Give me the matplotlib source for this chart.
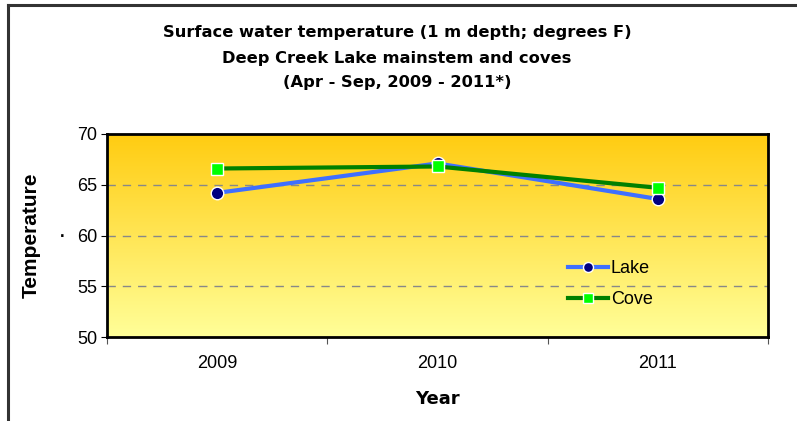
import numpy as np
import matplotlib
matplotlib.use("Agg")
import matplotlib.pyplot as plt
from matplotlib.colors import LinearSegmentedColormap
from matplotlib.lines import Line2D

plt.rcParams['font.family'] = ['Liberation Sans', 'DejaVu Sans']

# Data
years = ['2009', '2010', '2011']
lake = [64.2, 67.1, 63.6]
cove = [66.6, 66.8, 64.7]
yticks = [50, 55, 60, 65, 70]

fig = plt.figure(figsize=(7.97, 4.21), dpi=100)
ax = fig.add_axes([107 / 797, 1 - 337 / 421, 661 / 797, 203 / 421])

# gradient plot background
grad = LinearSegmentedColormap.from_list('bg', ['#FFFF99', '#FFCC11'])
ax.imshow(np.linspace(0, 1, 256).reshape(-1, 1), cmap=grad, origin='lower',
          aspect='auto', extent=[-0.5, 2.5, 50, 70], zorder=0)

x = np.arange(len(years))
ax.plot(x, lake, color='#3F6FFF', lw=3, marker='o', ms=9, mfc='#000080',
        mec='white', mew=1, label='Lake', zorder=3)
ax.plot(x, cove, color='#008000', lw=3, marker='s', ms=9, mfc='#00FF00',
        mec='white', mew=1, label='Cove', zorder=3)

ax.set_xlim(-0.5, 2.5)
ax.set_ylim(50, 70)
ax.set_yticks(yticks)
ax.tick_params(axis='y', labelsize=13, length=4, pad=3)
for v in yticks[1:-1]:
    ax.axhline(v, color='#888888', lw=1, ls=(0, (6, 5)), zorder=1)

ax.set_xticks([-0.5, 0.5, 1.5, 2.5])
ax.set_xticklabels([])
ax.tick_params(axis='x', which='major', length=5, color='#555555')
ax.set_xticks(x, years, minor=True)
ax.tick_params(axis='x', which='minor', length=0, pad=13, labelsize=13)

for s in ax.spines.values():
    s.set_linewidth(2)
    s.set_color('black')

ax.set_xlabel('Year', fontsize=13, fontweight='bold', labelpad=13,
              family=['DejaVu Sans'])
ax.set_ylabel('Temperature', fontsize=15, fontweight='bold', labelpad=26)
fig.text(62 / 797, 1 - 233 / 421, '.', fontsize=12, fontweight='bold',
         ha='center', va='center')

title_lines = ['Surface water temperature (1 m depth; degrees F)',
               'Deep Creek Lake mainstem and coves',
               '(Apr - Sep, 2009 - 2011*)']
for line, ypx in zip(title_lines, [33, 58, 82]):
    fig.text(397 / 797, 1 - ypx / 421, line, fontsize=11.7, fontweight='bold',
             ha='center', va='center', family=['DejaVu Sans'])

ax.legend(loc='center left', bbox_to_anchor=(0.698, 0.26), frameon=False,
          fontsize=13, handlelength=2.2, handletextpad=0.15, labelspacing=0.75,
          borderaxespad=0, borderpad=0, markerscale=0.8)

# outer chart frame (top and left edges visible)
fig.add_artist(Line2D([8 / 797, 1], [1 - 4.5 / 421, 1 - 4.5 / 421],
                      color='#333333', lw=2.2, transform=fig.transFigure))
fig.add_artist(Line2D([8 / 797, 8 / 797], [0, 1 - 4.5 / 421],
                      color='#333333', lw=2.2, transform=fig.transFigure))

fig.savefig('out.png', dpi=100)
